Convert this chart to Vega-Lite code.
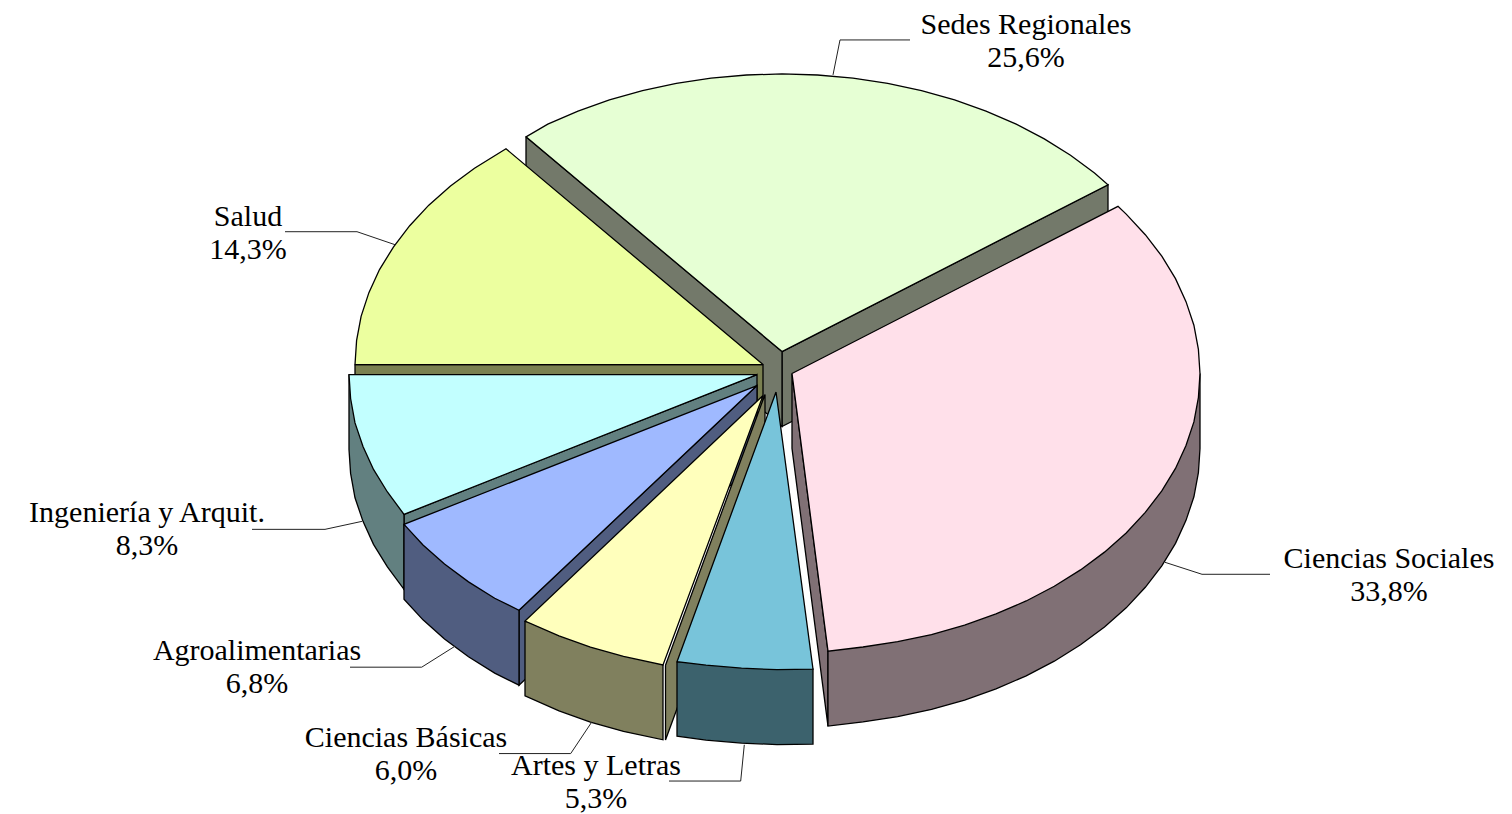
{"$schema":"https://vega.github.io/schema/vega-lite/v6.json","width":1512,"height":814,"padding":0,"autosize":{"type":"fit","contains":"padding"},"background":"white","view":{"stroke":null},
"datasets":{"caras":[
{"p":"S1","c":"Sedes lateral","o":1,"x":782,"y":352},{"p":"S1","c":"Sedes lateral","o":2,"x":1108,"y":185},{"p":"S1","c":"Sedes lateral","o":3,"x":1108,"y":260},{"p":"S1","c":"Sedes lateral","o":4,"x":782,"y":427},{"p":"S1","c":"Sedes lateral","o":5,"x":782,"y":352},
{"p":"S2","c":"Sedes lateral","o":1,"x":526,"y":137},{"p":"S2","c":"Sedes lateral","o":2,"x":782,"y":352},{"p":"S2","c":"Sedes lateral","o":3,"x":782,"y":427},{"p":"S2","c":"Sedes lateral","o":4,"x":526,"y":212},{"p":"S2","c":"Sedes lateral","o":5,"x":526,"y":137},
{"p":"S3","c":"Sedes","o":1,"x":782,"y":352},{"p":"S3","c":"Sedes","o":2,"x":1108,"y":185},{"p":"S3","c":"Sedes","o":3,"x":1094.5,"y":173.2},{"p":"S3","c":"Sedes","o":4,"x":1070.5,"y":155.5},{"p":"S3","c":"Sedes","o":5,"x":1044.3,"y":139},{"p":"S3","c":"Sedes","o":6,"x":1016.2,"y":124.3},{"p":"S3","c":"Sedes","o":7,"x":986,"y":111.3},{"p":"S3","c":"Sedes","o":8,"x":954.6,"y":100.1},{"p":"S3","c":"Sedes","o":9,"x":921.5,"y":90.7},{"p":"S3","c":"Sedes","o":10,"x":887.7,"y":83.5},{"p":"S3","c":"Sedes","o":11,"x":853,"y":78.2},{"p":"S3","c":"Sedes","o":12,"x":817.5,"y":75.1},{"p":"S3","c":"Sedes","o":13,"x":782,"y":74},{"p":"S3","c":"Sedes","o":14,"x":746.5,"y":75.1},{"p":"S3","c":"Sedes","o":15,"x":711,"y":78.2},{"p":"S3","c":"Sedes","o":16,"x":676.3,"y":83.5},{"p":"S3","c":"Sedes","o":17,"x":642.5,"y":90.7},{"p":"S3","c":"Sedes","o":18,"x":609.4,"y":100.1},{"p":"S3","c":"Sedes","o":19,"x":578,"y":111.3},{"p":"S3","c":"Sedes","o":20,"x":547.8,"y":124.3},{"p":"S3","c":"Sedes","o":21,"x":526,"y":137},{"p":"S3","c":"Sedes","o":22,"x":782,"y":352},
{"p":"H1","c":"Salud lateral","o":1,"x":355,"y":365},{"p":"H1","c":"Salud lateral","o":2,"x":763,"y":365},{"p":"H1","c":"Salud lateral","o":3,"x":763,"y":440},{"p":"H1","c":"Salud lateral","o":4,"x":355,"y":440},{"p":"H1","c":"Salud lateral","o":5,"x":355,"y":365},
{"p":"H2","c":"Salud","o":1,"x":763,"y":365},{"p":"H2","c":"Salud","o":2,"x":355,"y":365},{"p":"H2","c":"Salud","o":3,"x":356.6,"y":340.8},{"p":"H2","c":"Salud","o":4,"x":361.1,"y":316.7},{"p":"H2","c":"Salud","o":5,"x":368.9,"y":293},{"p":"H2","c":"Salud","o":6,"x":379.5,"y":269.9},{"p":"H2","c":"Salud","o":7,"x":393.4,"y":247.4},{"p":"H2","c":"Salud","o":8,"x":409.7,"y":226},{"p":"H2","c":"Salud","o":9,"x":428.8,"y":205.4},{"p":"H2","c":"Salud","o":10,"x":450.5,"y":186.2},{"p":"H2","c":"Salud","o":11,"x":474.5,"y":168.5},{"p":"H2","c":"Salud","o":12,"x":506,"y":149},{"p":"H2","c":"Salud","o":13,"x":763,"y":365},
{"p":"I1","c":"Ingenieria lateral","o":1,"x":404,"y":515},{"p":"I1","c":"Ingenieria lateral","o":2,"x":757,"y":375},{"p":"I1","c":"Ingenieria lateral","o":3,"x":757,"y":450},{"p":"I1","c":"Ingenieria lateral","o":4,"x":404,"y":590},{"p":"I1","c":"Ingenieria lateral","o":5,"x":404,"y":515},
{"p":"I2","c":"Ingenieria lateral","o":1,"x":349,"y":375},{"p":"I2","c":"Ingenieria lateral","o":2,"x":349,"y":450},{"p":"I2","c":"Ingenieria lateral","o":3,"x":350.6,"y":474},{"p":"I2","c":"Ingenieria lateral","o":4,"x":355,"y":498.4},{"p":"I2","c":"Ingenieria lateral","o":5,"x":363,"y":522},{"p":"I2","c":"Ingenieria lateral","o":6,"x":373.5,"y":545},{"p":"I2","c":"Ingenieria lateral","o":7,"x":387.4,"y":567.6},{"p":"I2","c":"Ingenieria lateral","o":8,"x":404,"y":590},{"p":"I2","c":"Ingenieria lateral","o":9,"x":404,"y":515},{"p":"I2","c":"Ingenieria lateral","o":10,"x":349,"y":375},
{"p":"I3","c":"Ingenieria","o":1,"x":757,"y":375},{"p":"I3","c":"Ingenieria","o":2,"x":349,"y":375},{"p":"I3","c":"Ingenieria","o":3,"x":350.6,"y":399},{"p":"I3","c":"Ingenieria","o":4,"x":355,"y":423.4},{"p":"I3","c":"Ingenieria","o":5,"x":363,"y":447},{"p":"I3","c":"Ingenieria","o":6,"x":373.5,"y":470},{"p":"I3","c":"Ingenieria","o":7,"x":387.4,"y":492.6},{"p":"I3","c":"Ingenieria","o":8,"x":404,"y":515},{"p":"I3","c":"Ingenieria","o":9,"x":757,"y":375},
{"p":"A1","c":"Agro lateral","o":1,"x":519,"y":611},{"p":"A1","c":"Agro lateral","o":2,"x":757,"y":386},{"p":"A1","c":"Agro lateral","o":3,"x":757,"y":461},{"p":"A1","c":"Agro lateral","o":4,"x":519,"y":686},{"p":"A1","c":"Agro lateral","o":5,"x":519,"y":611},
{"p":"A2","c":"Agro lateral","o":1,"x":404,"y":525},{"p":"A2","c":"Agro lateral","o":2,"x":404,"y":600},{"p":"A2","c":"Agro lateral","o":3,"x":423,"y":620.6},{"p":"A2","c":"Agro lateral","o":4,"x":444.5,"y":639.8},{"p":"A2","c":"Agro lateral","o":5,"x":468.5,"y":657.6},{"p":"A2","c":"Agro lateral","o":6,"x":494.7,"y":674},{"p":"A2","c":"Agro lateral","o":7,"x":519,"y":686},{"p":"A2","c":"Agro lateral","o":8,"x":519,"y":611},{"p":"A2","c":"Agro lateral","o":9,"x":404,"y":525},
{"p":"A3","c":"Agro","o":1,"x":757,"y":386},{"p":"A3","c":"Agro","o":2,"x":404,"y":525},{"p":"A3","c":"Agro","o":3,"x":423,"y":545.6},{"p":"A3","c":"Agro","o":4,"x":444.5,"y":564.8},{"p":"A3","c":"Agro","o":5,"x":468.5,"y":582.6},{"p":"A3","c":"Agro","o":6,"x":494.7,"y":599},{"p":"A3","c":"Agro","o":7,"x":519,"y":611},{"p":"A3","c":"Agro","o":8,"x":757,"y":386},
{"p":"B1","c":"Basicas lateral","o":1,"x":665.5,"y":666},{"p":"B1","c":"Basicas lateral","o":2,"x":765,"y":395},{"p":"B1","c":"Basicas lateral","o":3,"x":765,"y":470},{"p":"B1","c":"Basicas lateral","o":4,"x":665.5,"y":741},{"p":"B1","c":"Basicas lateral","o":5,"x":665.5,"y":666},
{"p":"B2","c":"Basicas lateral","o":1,"x":525,"y":621.8},{"p":"B2","c":"Basicas lateral","o":2,"x":525,"y":696.8},{"p":"B2","c":"Basicas lateral","o":3,"x":559,"y":711.7},{"p":"B2","c":"Basicas lateral","o":4,"x":590.4,"y":722.9},{"p":"B2","c":"Basicas lateral","o":5,"x":623.5,"y":732.3},{"p":"B2","c":"Basicas lateral","o":6,"x":663,"y":740.7},{"p":"B2","c":"Basicas lateral","o":7,"x":663,"y":665.7},{"p":"B2","c":"Basicas lateral","o":8,"x":525,"y":621.8},
{"p":"B3","c":"Basicas","o":1,"x":763,"y":396},{"p":"B3","c":"Basicas","o":2,"x":525,"y":621.8},{"p":"B3","c":"Basicas","o":3,"x":559,"y":636.7},{"p":"B3","c":"Basicas","o":4,"x":590.4,"y":647.9},{"p":"B3","c":"Basicas","o":5,"x":623.5,"y":657.3},{"p":"B3","c":"Basicas","o":6,"x":663,"y":665.7},{"p":"B3","c":"Basicas","o":7,"x":763,"y":396},
{"p":"L1","c":"Artes lateral","o":1,"x":677,"y":662.5},{"p":"L1","c":"Artes lateral","o":2,"x":677,"y":737},{"p":"L1","c":"Artes lateral","o":3,"x":706,"y":741},{"p":"L1","c":"Artes lateral","o":4,"x":741.5,"y":744},{"p":"L1","c":"Artes lateral","o":5,"x":777,"y":745.5},{"p":"L1","c":"Artes lateral","o":6,"x":813,"y":745},{"p":"L1","c":"Artes lateral","o":7,"x":813,"y":670},{"p":"L1","c":"Artes lateral","o":8,"x":677,"y":662.5},
{"p":"L2","c":"Artes","o":1,"x":776,"y":392.5},{"p":"L2","c":"Artes","o":2,"x":677,"y":662.5},{"p":"L2","c":"Artes","o":3,"x":706,"y":666},{"p":"L2","c":"Artes","o":4,"x":741.5,"y":669},{"p":"L2","c":"Artes","o":5,"x":777,"y":670.5},{"p":"L2","c":"Artes","o":6,"x":813,"y":670},{"p":"L2","c":"Artes","o":7,"x":776,"y":392.5},
{"p":"C1","c":"Sociales lateral","o":1,"x":792,"y":374},{"p":"C1","c":"Sociales lateral","o":2,"x":828,"y":652},{"p":"C1","c":"Sociales lateral","o":3,"x":828,"y":727},{"p":"C1","c":"Sociales lateral","o":4,"x":792,"y":449},{"p":"C1","c":"Sociales lateral","o":5,"x":792,"y":374},
{"p":"C2","c":"Sociales lateral","o":1,"x":1200,"y":374},{"p":"C2","c":"Sociales lateral","o":2,"x":1200,"y":449},{"p":"C2","c":"Sociales lateral","o":3,"x":1198.4,"y":473.2},{"p":"C2","c":"Sociales lateral","o":4,"x":1193.9,"y":497.4},{"p":"C2","c":"Sociales lateral","o":5,"x":1186,"y":521},{"p":"C2","c":"Sociales lateral","o":6,"x":1175.5,"y":544},{"p":"C2","c":"Sociales lateral","o":7,"x":1161.8,"y":566.5},{"p":"C2","c":"Sociales lateral","o":8,"x":1145.3,"y":588},{"p":"C2","c":"Sociales lateral","o":9,"x":1126.2,"y":608.6},{"p":"C2","c":"Sociales lateral","o":10,"x":1104.5,"y":627.8},{"p":"C2","c":"Sociales lateral","o":11,"x":1080.5,"y":645.6},{"p":"C2","c":"Sociales lateral","o":12,"x":1054.3,"y":662},{"p":"C2","c":"Sociales lateral","o":13,"x":1026.2,"y":676.7},{"p":"C2","c":"Sociales lateral","o":14,"x":996,"y":689.7},{"p":"C2","c":"Sociales lateral","o":15,"x":964.6,"y":700.9},{"p":"C2","c":"Sociales lateral","o":16,"x":931.5,"y":710.3},{"p":"C2","c":"Sociales lateral","o":17,"x":897.7,"y":717.5},{"p":"C2","c":"Sociales lateral","o":18,"x":863,"y":722.8},{"p":"C2","c":"Sociales lateral","o":19,"x":828,"y":727},{"p":"C2","c":"Sociales lateral","o":20,"x":828,"y":652},{"p":"C2","c":"Sociales lateral","o":21,"x":1200,"y":374},
{"p":"C3","c":"Sociales","o":1,"x":792,"y":374},{"p":"C3","c":"Sociales","o":2,"x":1118,"y":206.6},{"p":"C3","c":"Sociales","o":3,"x":1126.2,"y":214.4},{"p":"C3","c":"Sociales","o":4,"x":1145.3,"y":235},{"p":"C3","c":"Sociales","o":5,"x":1161.8,"y":256.5},{"p":"C3","c":"Sociales","o":6,"x":1175.5,"y":279},{"p":"C3","c":"Sociales","o":7,"x":1186,"y":302},{"p":"C3","c":"Sociales","o":8,"x":1193.9,"y":325.6},{"p":"C3","c":"Sociales","o":9,"x":1198.4,"y":349.8},{"p":"C3","c":"Sociales","o":10,"x":1200,"y":374},{"p":"C3","c":"Sociales","o":11,"x":1198.4,"y":398.2},{"p":"C3","c":"Sociales","o":12,"x":1193.9,"y":422.4},{"p":"C3","c":"Sociales","o":13,"x":1186,"y":446},{"p":"C3","c":"Sociales","o":14,"x":1175.5,"y":469},{"p":"C3","c":"Sociales","o":15,"x":1161.8,"y":491.5},{"p":"C3","c":"Sociales","o":16,"x":1145.3,"y":513},{"p":"C3","c":"Sociales","o":17,"x":1126.2,"y":533.6},{"p":"C3","c":"Sociales","o":18,"x":1104.5,"y":552.8},{"p":"C3","c":"Sociales","o":19,"x":1080.5,"y":570.6},{"p":"C3","c":"Sociales","o":20,"x":1054.3,"y":587},{"p":"C3","c":"Sociales","o":21,"x":1026.2,"y":601.7},{"p":"C3","c":"Sociales","o":22,"x":996,"y":614.7},{"p":"C3","c":"Sociales","o":23,"x":964.6,"y":625.9},{"p":"C3","c":"Sociales","o":24,"x":931.5,"y":635.3},{"p":"C3","c":"Sociales","o":25,"x":897.7,"y":642.5},{"p":"C3","c":"Sociales","o":26,"x":863,"y":647.8},{"p":"C3","c":"Sociales","o":27,"x":828,"y":652},{"p":"C3","c":"Sociales","o":28,"x":792,"y":374}
],
"guias":[
{"s":"Sedes","o":1,"x":910,"y":40},{"s":"Sedes","o":2,"x":840,"y":40},{"s":"Sedes","o":3,"x":833,"y":75},
{"s":"Sociales","o":1,"x":1270,"y":575},{"s":"Sociales","o":2,"x":1202,"y":575},{"s":"Sociales","o":3,"x":1165,"y":563},
{"s":"Salud","o":1,"x":285,"y":232},{"s":"Salud","o":2,"x":357,"y":232},{"s":"Salud","o":3,"x":395,"y":245},
{"s":"Ingenieria","o":1,"x":252,"y":530},{"s":"Ingenieria","o":2,"x":325,"y":530},{"s":"Ingenieria","o":3,"x":362,"y":522},
{"s":"Agro","o":1,"x":350,"y":668},{"s":"Agro","o":2,"x":421.7,"y":668},{"s":"Agro","o":3,"x":455,"y":647},
{"s":"Basicas","o":1,"x":499,"y":754.5},{"s":"Basicas","o":2,"x":570.7,"y":754.5},{"s":"Basicas","o":3,"x":591.7,"y":723},
{"s":"Artes","o":1,"x":669,"y":782},{"s":"Artes","o":2,"x":740.7,"y":782},{"s":"Artes","o":3,"x":744.3,"y":745.7}
],
"etiquetas":[
{"sector":"Sedes Regionales","pct":"25,6%","x":1026,"y1":25,"y2":58},
{"sector":"Ciencias Sociales","pct":"33,8%","x":1389,"y1":560,"y2":593},
{"sector":"Salud","pct":"14,3%","x":248,"y1":217,"y2":250},
{"sector":"Ingeniería y Arquit.","pct":"8,3%","x":147,"y1":514,"y2":547},
{"sector":"Agroalimentarias","pct":"6,8%","x":257,"y1":652,"y2":685},
{"sector":"Ciencias Básicas","pct":"6,0%","x":406,"y1":739,"y2":772},
{"sector":"Artes y Letras","pct":"5,3%","x":596,"y1":767,"y2":800}
]},
"layer":[
{"data":{"name":"caras"},"mark":{"type":"line","stroke":"#000000","strokeWidth":1.3,"strokeJoin":"miter","clip":false},
"encoding":{"x":{"field":"x","type":"quantitative","scale":{"domain":[0,1512],"nice":false,"zero":false},"axis":null},
"y":{"field":"y","type":"quantitative","scale":{"domain":[814,0],"nice":false,"zero":false},"axis":null},
"order":{"field":"o","type":"quantitative"},"detail":{"field":"p"},
"fill":{"field":"c","type":"nominal","legend":null,"scale":{"domain":["Sedes","Sedes lateral","Salud","Salud lateral","Ingenieria","Ingenieria lateral","Agro","Agro lateral","Basicas","Basicas lateral","Artes","Artes lateral","Sociales","Sociales lateral"],"range":["#e6ffd4","#73796a","#ecff9f","#7a8050","#c2ffff","#628080","#9fb9ff","#505d80","#ffffbc","#80805e","#78c4da","#3c626d","#ffe0ea","#807075"]}}}},
{"data":{"name":"guias"},"mark":{"type":"line","stroke":"#222222","strokeWidth":1},
"encoding":{"x":{"field":"x","type":"quantitative"},"y":{"field":"y","type":"quantitative"},"order":{"field":"o","type":"quantitative"},"detail":{"field":"s"}}},
{"data":{"name":"etiquetas"},"mark":{"type":"text","font":"Liberation Serif","fontSize":30,"color":"#000000","align":"center","baseline":"middle"},
"encoding":{"x":{"field":"x","type":"quantitative"},"y":{"field":"y1","type":"quantitative"},"text":{"field":"sector"}}},
{"data":{"name":"etiquetas"},"mark":{"type":"text","font":"Liberation Serif","fontSize":30,"color":"#000000","align":"center","baseline":"middle"},
"encoding":{"x":{"field":"x","type":"quantitative"},"y":{"field":"y2","type":"quantitative"},"text":{"field":"pct"}}}
]}
